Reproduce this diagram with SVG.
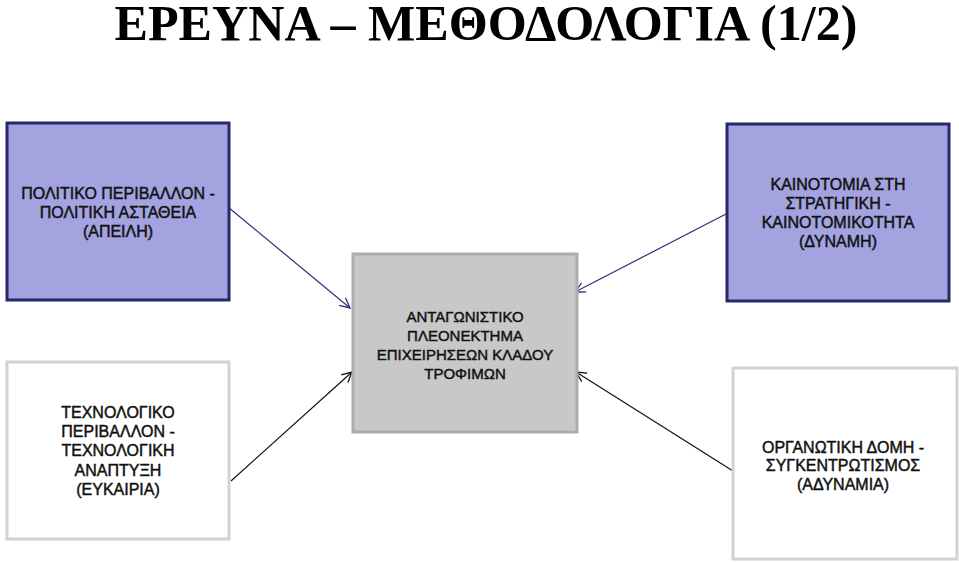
<svg xmlns="http://www.w3.org/2000/svg" width="959" height="562" viewBox="0 0 959 562">
<style>
.t{font-family:"Liberation Sans",Arial,sans-serif;font-size:16px;fill:#111;stroke:#111;stroke-width:0.45;text-anchor:middle}
.c{font-size:15px}
.blue{fill:#a3a3e0;stroke:#262868;stroke-width:3}
.gray{fill:#c8c8c8;stroke:#acacac;stroke-width:3}
.white{fill:#fff;stroke:#d2d2d2;stroke-width:3}
.cn{fill:none;stroke-width:1.2}
</style>
<defs>
<marker id="an" viewBox="0 0 12 12" refX="11" refY="6" markerWidth="12" markerHeight="12" markerUnits="userSpaceOnUse" orient="auto"><path d="M1,1 L11,6 L1,11" fill="none" stroke="#2e2f7a" stroke-width="1.3"/></marker>
<marker id="ab" viewBox="0 0 12 12" refX="11" refY="6" markerWidth="12" markerHeight="12" markerUnits="userSpaceOnUse" orient="auto"><path d="M1,1 L11,6 L1,11" fill="none" stroke="#111" stroke-width="1.3"/></marker>
</defs>
<rect width="959" height="562" fill="#fff"/>
<text x="486" y="40" font-family="'Liberation Serif','Times New Roman',serif" font-weight="bold" font-size="50" text-anchor="middle" textLength="743" lengthAdjust="spacingAndGlyphs" fill="#000">ΕΡΕΥΝΑ – ΜΕΘΟΔΟΛΟΓΙΑ (1/2)</text>
<g id="connectors">
<line class="cn" x1="228" y1="207" x2="350" y2="308" stroke="#2e2f7a" marker-end="url(#an)"/>
<line class="cn" x1="726" y1="214" x2="575" y2="292" stroke="#2e2f7a" marker-end="url(#an)"/>
<line class="cn" x1="231" y1="481" x2="352" y2="372" stroke="#111" marker-end="url(#ab)"/>
<line class="cn" x1="733" y1="471" x2="576" y2="372" stroke="#111" marker-end="url(#ab)"/>
</g>
<g id="n1">
<rect class="blue" x="7" y="123" width="222" height="177"/>
<text class="t" x="118" y="199">ΠΟΛΙΤΙΚΟ ΠΕΡΙΒΑΛΛΟΝ -</text>
<text class="t" x="118" y="218">ΠΟΛΙΤΙΚΗ ΑΣΤΑΘΕΙΑ</text>
<text class="t" x="118" y="237">(ΑΠΕΙΛΗ)</text>
</g>
<g id="n2">
<rect class="blue" x="727" y="124" width="222" height="177"/>
<text class="t" x="838" y="190">ΚΑΙΝΟΤΟΜΙΑ ΣΤΗ</text>
<text class="t" x="838" y="209">ΣΤΡΑΤΗΓΙΚΗ -</text>
<text class="t" x="838" y="228">ΚΑΙΝΟΤΟΜΙΚΟΤΗΤΑ</text>
<text class="t" x="838" y="247">(ΔΥΝΑΜΗ)</text>
</g>
<g id="n3">
<rect class="gray" x="353" y="254" width="224" height="178"/>
<text class="t c" x="465" y="322">ΑΝΤΑΓΩΝΙΣΤΙΚΟ</text>
<text class="t c" x="465" y="341">ΠΛΕΟΝΕΚΤΗΜΑ</text>
<text class="t c" x="465" y="360">ΕΠΙΧΕΙΡΗΣΕΩΝ ΚΛΑΔΟΥ</text>
<text class="t c" x="465" y="379">ΤΡΟΦΙΜΩΝ</text>
</g>
<g id="n4">
<rect class="white" x="7" y="362" width="222" height="177"/>
<text class="t" x="118" y="418">ΤΕΧΝΟΛΟΓΙΚΟ</text>
<text class="t" x="118" y="437">ΠΕΡΙΒΑΛΛΟΝ -</text>
<text class="t" x="118" y="456">ΤΕΧΝΟΛΟΓΙΚΗ</text>
<text class="t" x="118" y="476">ΑΝΑΠΤΥΞΗ</text>
<text class="t" x="118" y="495">(ΕΥΚΑΙΡΙΑ)</text>
</g>
<g id="n5">
<rect class="white" x="733" y="368" width="224" height="191"/>
<text class="t" x="843" y="453">ΟΡΓΑΝΩΤΙΚΗ ΔΟΜΗ -</text>
<text class="t" x="843" y="471">ΣΥΓΚΕΝΤΡΩΤΙΣΜΟΣ</text>
<text class="t" x="843" y="490">(ΑΔΥΝΑΜΙΑ)</text>
</g>
</svg>
